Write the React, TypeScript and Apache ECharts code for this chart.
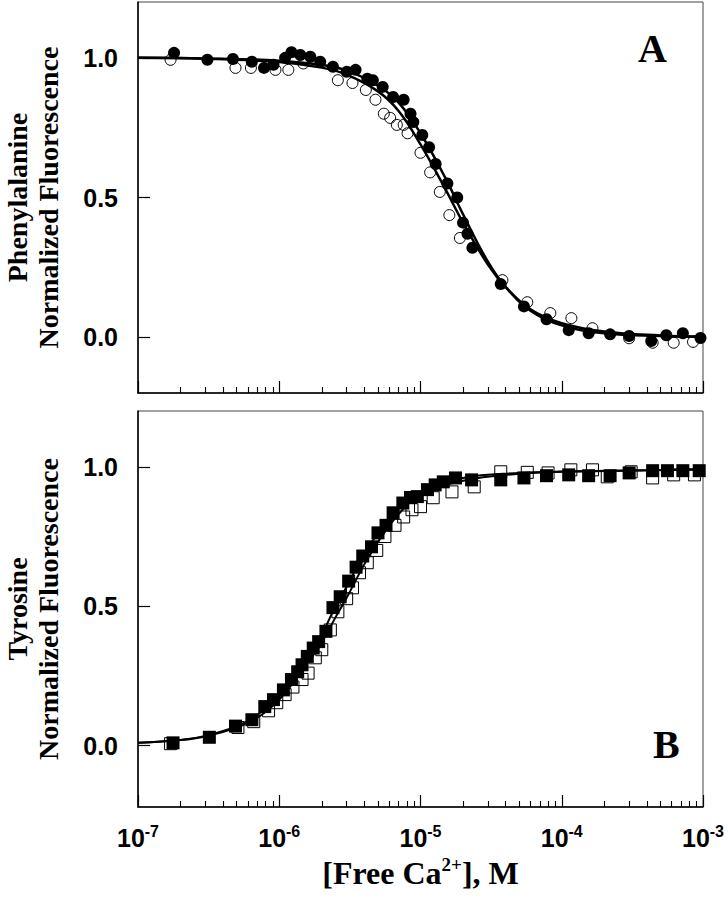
import React, { useEffect, useRef } from 'react';
import * as echarts from 'echarts';

// ---------- Panel A: Phenylalanine ----------
const pheFilledX = [1.8e-7, 3.1e-7, 4.7e-7, 6.4e-7, 7.8e-7, 9.1e-7, 1.1e-6, 1.22e-6, 1.41e-6, 1.66e-6, 1.95e-6, 2.4e-6, 3.0e-6, 3.47e-6, 4.2e-6, 4.6e-6, 5.4e-6, 6.4e-6, 7.6e-6, 8.5e-6, 8.9e-6, 1.03e-5, 1.15e-5, 1.28e-5, 1.55e-5, 1.82e-5, 2.0e-5, 2.15e-5, 2.33e-5, 3.7e-5, 5.4e-5, 7.8e-5, 1.12e-4, 1.55e-4, 2.2e-4, 3.0e-4, 4.3e-4, 5.5e-4, 7.2e-4, 9.6e-4];
const pheFilledY = [1.018, 0.993, 0.996, 0.986, 0.964, 0.975, 1.0, 1.02, 1.01, 1.004, 0.986, 0.968, 0.95, 0.957, 0.925, 0.92, 0.896, 0.86, 0.85, 0.8, 0.77, 0.724, 0.68, 0.62, 0.55, 0.5, 0.41, 0.37, 0.32, 0.19, 0.11, 0.064, 0.025, 0.014, 0.01, 0.004, -0.014, 0.007, 0.014, -0.003];
const pheOpenX = [1.7e-7, 4.9e-7, 6.3e-7, 9.4e-7, 1.16e-6, 1.48e-6, 2.6e-6, 3.3e-6, 4.1e-6, 4.8e-6, 5.5e-6, 6.1e-6, 6.8e-6, 7.6e-6, 8.1e-6, 1.0e-5, 1.17e-5, 1.37e-5, 1.6e-5, 1.9e-5, 3.8e-5, 5.7e-5, 8.3e-5, 1.17e-4, 1.65e-4, 3.0e-4, 4.4e-4, 6.2e-4, 8.5e-4];
const pheOpenY = [0.993, 0.964, 0.964, 0.957, 0.957, 0.98, 0.92, 0.91, 0.885, 0.85, 0.8, 0.785, 0.76, 0.76, 0.73, 0.66, 0.59, 0.52, 0.437, 0.355, 0.204, 0.125, 0.086, 0.068, 0.032, -0.004, -0.02, -0.02, -0.017];
const pheFitX = [1e-7, 3e-7, 1e-6, 2e-6, 3e-6, 5e-6, 7e-6, 1e-5, 1.5e-5, 2e-5, 3e-5, 4e-5, 6e-5, 1e-4, 2e-4, 5e-4, 1e-3];
const pheFitFilled = [1.0, 0.998, 0.99, 0.975, 0.955, 0.9, 0.84, 0.73, 0.57, 0.44, 0.27, 0.18, 0.095, 0.042, 0.014, 0.004, 0.001];
const pheFitOpen = [1.0, 0.997, 0.985, 0.965, 0.94, 0.88, 0.81, 0.69, 0.53, 0.41, 0.26, 0.18, 0.1, 0.05, 0.02, 0.006, 0.002];

// ---------- Panel B: Tyrosine ----------
const tyrFilledX = [1.77e-7, 3.2e-7, 4.9e-7, 6.4e-7, 7.9e-7, 9.1e-7, 1.07e-6, 1.22e-6, 1.35e-6, 1.45e-6, 1.58e-6, 1.74e-6, 1.9e-6, 2.14e-6, 2.4e-6, 2.7e-6, 3.1e-6, 3.5e-6, 3.9e-6, 4.5e-6, 5.0e-6, 5.7e-6, 6.4e-6, 7.5e-6, 8.5e-6, 9.5e-6, 1.12e-5, 1.27e-5, 1.45e-5, 1.77e-5, 2.3e-5, 3.7e-5, 5.4e-5, 7.8e-5, 1.12e-4, 1.55e-4, 2.2e-4, 3.0e-4, 4.4e-4, 5.6e-4, 7.2e-4, 9.4e-4];
const tyrFilledY = [0.01, 0.03, 0.07, 0.093, 0.14, 0.165, 0.2, 0.237, 0.265, 0.29, 0.32, 0.35, 0.373, 0.41, 0.495, 0.534, 0.59, 0.64, 0.68, 0.713, 0.763, 0.79, 0.835, 0.87, 0.89, 0.893, 0.918, 0.935, 0.946, 0.96, 0.953, 0.953, 0.96, 0.968, 0.971, 0.968, 0.968, 0.978, 0.986, 0.986, 0.986, 0.986];
const tyrOpenX = [1.7e-7, 5.1e-7, 6.6e-7, 8.4e-7, 9.6e-7, 1.1e-6, 1.25e-6, 1.45e-6, 1.6e-6, 1.8e-6, 2.0e-6, 2.3e-6, 2.6e-6, 3.0e-6, 3.3e-6, 3.7e-6, 4.2e-6, 4.9e-6, 5.6e-6, 6.6e-6, 7.6e-6, 8.7e-6, 1.0e-5, 1.23e-5, 1.67e-5, 2.4e-5, 3.7e-5, 5.7e-5, 8.0e-5, 1.16e-4, 1.65e-4, 2.1e-4, 3.1e-4, 4.4e-4, 6.2e-4, 8.7e-4];
const tyrOpenY = [0.007, 0.065, 0.086, 0.125, 0.154, 0.183, 0.21, 0.237, 0.26, 0.315, 0.344, 0.415, 0.48, 0.527, 0.566, 0.62, 0.656, 0.7, 0.75, 0.79, 0.82, 0.846, 0.857, 0.889, 0.91, 0.928, 0.982, 0.98, 0.978, 0.989, 0.989, 0.964, 0.982, 0.96, 0.971, 0.971];
const tyrFitX = [1e-7, 2e-7, 3e-7, 5e-7, 7e-7, 1e-6, 1.5e-6, 2e-6, 2.5e-6, 3e-6, 4e-6, 5e-6, 7e-6, 1e-5, 2e-5, 5e-5, 1e-4, 1e-3];
const tyrFitFilled = [0.01, 0.02, 0.035, 0.07, 0.11, 0.18, 0.31, 0.4, 0.5, 0.57, 0.69, 0.76, 0.855, 0.91, 0.96, 0.978, 0.983, 0.99];
const tyrFitOpen = [0.01, 0.02, 0.033, 0.065, 0.1, 0.165, 0.28, 0.37, 0.46, 0.53, 0.65, 0.73, 0.83, 0.9, 0.95, 0.975, 0.982, 0.99];

// ---------- Axis ticks ----------
const majorTicks = [1e-7, 1e-6, 1e-5, 1e-4, 1e-3];
const minorMultipliers = [2, 3, 4, 5, 6, 7, 8, 9];
const minorTicks = majorTicks.slice(0, 4).flatMap((d) => minorMultipliers.map((m) => m * d));
const yTicks = [0, 0.5, 1.0];

const zip = (xs: number[], ys: number[]) => xs.map((x, i) => [x, ys[i]]);

const sansBold = { fontFamily: 'Liberation Sans, Arial, sans-serif', fontWeight: 'bold' as const };
const serifBold = { fontFamily: 'Liberation Serif, Times New Roman, serif', fontWeight: 'bold' as const };

function makeXAxes(gridIndex: number, showLabels: boolean) {
  const base = {
    type: 'log' as const,
    logBase: 10,
    gridIndex,
    min: 1e-7,
    max: 1e-3,
    position: 'bottom' as const,
    splitLine: { show: false },
  };
  return [
    {
      ...base,
      axisLine: { show: true, onZero: false, lineStyle: { color: '#000', width: 1.5 } },
      axisTick: { show: true, inside: true, length: 12, customValues: majorTicks, lineStyle: { color: '#000', width: 1.2 } },
      axisLabel: showLabels
        ? {
            show: true,
            margin: 16,
            customValues: majorTicks,
            formatter: (v: number) => `{b|10}{s|${Math.round(Math.log10(v))}}`,
            rich: {
              b: { ...sansBold, fontSize: 25, color: '#000', lineHeight: 30 },
              s: { ...sansBold, fontSize: 16, color: '#000', lineHeight: 30, verticalAlign: 'top', padding: [0, 0, 14, 0] },
            },
          }
        : { show: false },
      name: showLabels ? '{n|[Free Ca}{s|2+}{n|], M}' : '',
      nameLocation: 'middle' as const,
      nameGap: 48,
      nameTextStyle: {
        rich: {
          n: { ...serifBold, fontSize: 32, color: '#000', lineHeight: 36 },
          s: { ...serifBold, fontSize: 19, color: '#000', lineHeight: 36, verticalAlign: 'top', padding: [0, 0, 16, 0] },
        },
      },
    },
    {
      ...base,
      axisLine: { show: false, onZero: false },
      axisTick: { show: true, inside: true, length: 6, customValues: minorTicks, lineStyle: { color: '#000', width: 1.1 } },
      axisLabel: { show: false },
    },
  ];
}

function makeYAxis(gridIndex: number, min: number, name: string) {
  return {
    type: 'value' as const,
    gridIndex,
    min,
    max: 1.2,
    splitLine: { show: false },
    axisLine: { show: true, onZero: false, lineStyle: { color: '#000', width: 1.5 } },
    axisTick: { show: true, inside: true, length: 12, customValues: yTicks, lineStyle: { color: '#000', width: 1.2 } },
    axisLabel: {
      show: true,
      margin: 20,
      customValues: yTicks,
      formatter: (v: number) => v.toFixed(1),
      ...sansBold,
      fontSize: 25,
      color: '#000',
    },
    name,
    nameLocation: 'middle' as const,
    nameRotate: 90,
    nameGap: 74,
    nameTextStyle: { ...serifBold, fontSize: 28, lineHeight: 31, color: '#000' },
  };
}

const filledCircle = { symbol: 'circle', symbolSize: 12, itemStyle: { color: '#000', opacity: 1 } };
const openCircle = { symbol: 'circle', symbolSize: 11, itemStyle: { color: 'rgba(0,0,0,0)', borderColor: '#000', borderWidth: 1, opacity: 1 } };
const filledSquare = { symbol: 'rect', symbolSize: 13, itemStyle: { color: '#000', opacity: 1 } };
const openSquare = { symbol: 'rect', symbolSize: 12, itemStyle: { color: 'rgba(0,0,0,0)', borderColor: '#000', borderWidth: 1, opacity: 1 } };
const fitLine = (w: number) => ({ type: 'line' as const, smooth: 0.4, symbol: 'none', lineStyle: { color: '#000', width: w }, z: 1 });

const option = {
  animation: false,
  backgroundColor: '#fff',
  grid: [
    { left: 138, right: 25, top: 2, height: 391, show: true, borderColor: '#444', borderWidth: 1, containLabel: false, outerBoundsMode: 'none' },
    { left: 138, right: 25, top: 411, height: 396, show: true, borderColor: '#444', borderWidth: 1, containLabel: false, outerBoundsMode: 'none' },
  ],
  xAxis: [...makeXAxes(0, false), ...makeXAxes(1, true)],
  yAxis: [makeYAxis(0, -0.2, 'Phenylalanine\nNormalized Fluorescence'), makeYAxis(1, -0.22, 'Tyrosine\nNormalized Fluorescence')],
  series: [
    { ...fitLine(2.5), name: 'Phe fit open', xAxisIndex: 0, yAxisIndex: 0, data: zip(pheFitX, pheFitOpen) },
    { ...fitLine(2.5), name: 'Phe fit filled', xAxisIndex: 0, yAxisIndex: 0, data: zip(pheFitX, pheFitFilled) },
    { type: 'scatter', name: 'Phe open', xAxisIndex: 0, yAxisIndex: 0, ...openCircle, z: 3, data: zip(pheOpenX, pheOpenY) },
    { type: 'scatter', name: 'Phe filled', xAxisIndex: 0, yAxisIndex: 0, ...filledCircle, z: 2, data: zip(pheFilledX, pheFilledY) },
    { ...fitLine(2), name: 'Tyr fit open', xAxisIndex: 2, yAxisIndex: 1, data: zip(tyrFitX, tyrFitOpen) },
    { ...fitLine(2), name: 'Tyr fit filled', xAxisIndex: 2, yAxisIndex: 1, data: zip(tyrFitX, tyrFitFilled) },
    { type: 'scatter', name: 'Tyr open', xAxisIndex: 2, yAxisIndex: 1, ...openSquare, z: 2, data: zip(tyrOpenX, tyrOpenY) },
    { type: 'scatter', name: 'Tyr filled', xAxisIndex: 2, yAxisIndex: 1, ...filledSquare, z: 3, data: zip(tyrFilledX, tyrFilledY) },
  ],
  graphic: [
    { type: 'text', left: 638, top: 28, style: { text: 'A', ...serifBold, fontSize: 40, fill: '#000' } },
    { type: 'text', left: 653, top: 724, style: { text: 'B', ...serifBold, fontSize: 40, fill: '#000' } },
  ],
};

export default function App() {
  const ref = useRef<HTMLDivElement>(null);
  useEffect(() => {
    document.body.style.margin = '0';
    const chart = echarts.init(ref.current!, null, { renderer: 'svg' });
    chart.setOption(option as any);
    return () => chart.dispose();
  }, []);
  return <div ref={ref} style={{ width: 728, height: 899 }} />;
}
